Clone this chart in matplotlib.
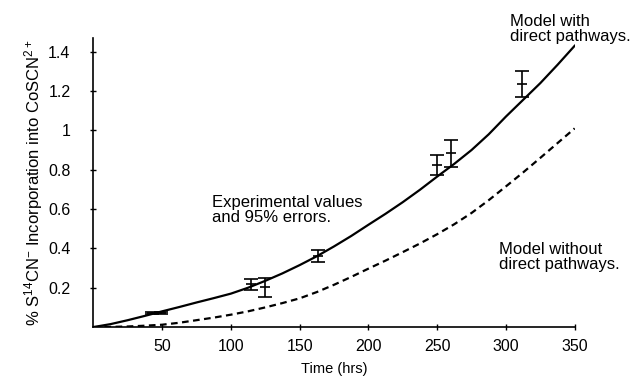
import numpy as np
import matplotlib
matplotlib.use("Agg")
import matplotlib.pyplot as plt
from matplotlib.ticker import FuncFormatter

plt.rcParams["font.family"] = ["Liberation Sans", "DejaVu Sans"]
plt.rcParams["mathtext.default"] = "regular"

# ---------------------------------------------------------------------------
# Data
# ---------------------------------------------------------------------------
# model curves (time in hrs, % incorporation)
model_t = [0, 12.5, 25, 37.5, 50, 62.5, 75, 87.5, 100, 112.5, 125, 137.5, 150,
           162.5, 175, 187.5, 200, 212.5, 225, 237.5, 250, 262.5, 275, 287.5,
           300, 312.5, 325, 337.5, 350]
with_direct = [0, 0.015, 0.035, 0.057, 0.08, 0.102, 0.125, 0.147, 0.17, 0.2,
               0.235, 0.273, 0.315, 0.36, 0.41, 0.463, 0.52, 0.576, 0.635,
               0.698, 0.765, 0.83, 0.90, 0.98, 1.07, 1.155, 1.24, 1.333, 1.43]
without_direct = [0, 0.001, 0.003, 0.007, 0.012, 0.022, 0.035, 0.048, 0.063,
                  0.08, 0.10, 0.122, 0.146, 0.178, 0.215, 0.255, 0.297, 0.338,
                  0.381, 0.425, 0.472, 0.523, 0.58, 0.645, 0.715, 0.786, 0.86,
                  0.935, 1.01]

# experimental values and 95% errors
exp_t   = [43, 49, 115, 125, 163, 250, 260, 312]
exp_y   = [0.070, 0.072, 0.217, 0.202, 0.362, 0.825, 0.883, 1.236]
exp_err = [0.005, 0.005, 0.026, 0.047, 0.032, 0.050, 0.067, 0.064]

x_ticks = [50, 100, 150, 200, 250, 300, 350]
y_ticks = [0.2, 0.4, 0.6, 0.8, 1.0, 1.2, 1.4]

# ---------------------------------------------------------------------------
fig = plt.figure(figsize=(6.35, 3.79), dpi=100)
ax = fig.add_axes([0.147, 0.137, 0.758, 0.763])

ax.plot(model_t, with_direct, color="black", linewidth=1.6)
ax.plot(model_t, without_direct, color="black", linewidth=1.6,
        linestyle=(0, (3.0, 2.0)))
ax.errorbar(exp_t, exp_y, yerr=exp_err, fmt="_", color="black", markersize=7,
            elinewidth=1.2, capsize=4.7, capthick=1.2, markeredgewidth=1.2)

ax.set_xlim(0, 350)
ax.set_ylim(0, 1.47)
ax.set_xticks(x_ticks)
ax.set_yticks(y_ticks)
ax.yaxis.set_major_formatter(FuncFormatter(lambda v, p: f"{v:g}"))
ax.tick_params(direction="inout", length=5, width=1, labelsize=11.5)
ax.tick_params(axis="y", pad=14)
ax.tick_params(axis="x", pad=6)
for side in ["top", "right"]:
    ax.spines[side].set_visible(False)
for side in ["left", "bottom"]:
    ax.spines[side].set_linewidth(1.2)

ax.set_xlabel("Time (hrs)", fontsize=10.5, labelpad=6)
ax.set_ylabel(r"% S$^{14}$CN$^{-}$ Incorporation into CoSCN$^{2+}$",
              fontsize=12, labelpad=2)

ax.text(303, 1.59, "Model with\ndirect pathways.", fontsize=12,
        va="top", ha="left", linespacing=1.0, clip_on=False)
ax.text(86, 0.672, "Experimental values\nand 95% errors.", fontsize=12,
        va="top", ha="left", linespacing=1.0)
ax.text(295, 0.43, "Model without\ndirect pathways.", fontsize=12,
        va="top", ha="left", linespacing=1.0)

fig.savefig("out.png", dpi=100)
